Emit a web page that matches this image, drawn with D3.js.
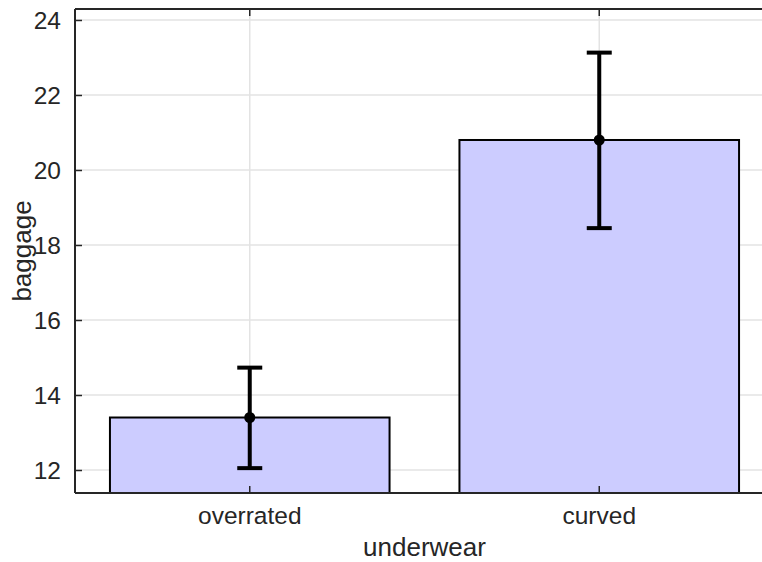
<!DOCTYPE html>
<html>
<head>
<meta charset="utf-8">
<script src="https://cdn.jsdelivr.net/npm/d3@7"></script>
<style>
  body { margin: 0; background: #fff; }
  svg text { font-family: "Liberation Sans", Arial, sans-serif; fill: #262626; }
</style>
</head>
<body>
<div id="chart"></div>
<script>
// data
var categories = ["overrated", "curved"];
var means = [13.4, 20.8];
var lowers = [12.05, 18.45];
var uppers = [14.73, 23.13];
var yTicks = [12, 14, 16, 18, 20, 22, 24];

var width = 762, height = 562;
var margin = {top: 9, right: -12, bottom: 69, left: 75};
var plotW = width - margin.left - margin.right;
var plotH = height - margin.top - margin.bottom;

var svg = d3.select("#chart").append("svg")
    .attr("width", width)
    .attr("height", height);

var g = svg.append("g")
    .attr("transform", "translate(" + margin.left + "," + margin.top + ")");

var x = d3.scaleBand()
    .domain(categories)
    .range([0, plotW])
    .paddingInner(0.2)
    .paddingOuter(0.1);

var y = d3.scaleLinear()
    .domain([11.387, 24.293])
    .range([plotH, 0]);

// grid lines
g.append("g").selectAll("line.hgrid")
    .data(yTicks).enter().append("line")
    .attr("x1", 0).attr("x2", plotW)
    .attr("y1", function(d) { return y(d); })
    .attr("y2", function(d) { return y(d); })
    .attr("stroke", "#e3e3e3").attr("stroke-width", 1.5);

g.append("g").selectAll("line.vgrid")
    .data(categories).enter().append("line")
    .attr("x1", function(d) { return x(d) + x.bandwidth()/2; })
    .attr("x2", function(d) { return x(d) + x.bandwidth()/2; })
    .attr("y1", 0).attr("y2", plotH)
    .attr("stroke", "#e3e3e3").attr("stroke-width", 1.5);

// bars
g.selectAll("rect.bar")
    .data(categories).enter().append("rect")
    .attr("class", "bar")
    .attr("x", function(d) { return x(d); })
    .attr("width", x.bandwidth())
    .attr("y", function(d, i) { return y(means[i]); })
    .attr("height", function(d, i) { return plotH - y(means[i]); })
    .attr("fill", "#ccccff")
    .attr("stroke", "#000")
    .attr("stroke-width", 2);

// error bars
var cx = function(d) { return x(d) + x.bandwidth()/2; };
var capW = 12.5;
var eb = g.append("g").selectAll("g")
    .data(categories).enter().append("g");
eb.append("line")
    .attr("x1", cx).attr("x2", cx)
    .attr("y1", function(d, i) { return y(lowers[i]); })
    .attr("y2", function(d, i) { return y(uppers[i]); })
    .attr("stroke", "#000").attr("stroke-width", 4);
eb.append("line")
    .attr("x1", function(d) { return cx(d) - capW; })
    .attr("x2", function(d) { return cx(d) + capW; })
    .attr("y1", function(d, i) { return y(uppers[i]); })
    .attr("y2", function(d, i) { return y(uppers[i]); })
    .attr("stroke", "#000").attr("stroke-width", 4);
eb.append("line")
    .attr("x1", function(d) { return cx(d) - capW; })
    .attr("x2", function(d) { return cx(d) + capW; })
    .attr("y1", function(d, i) { return y(lowers[i]); })
    .attr("y2", function(d, i) { return y(lowers[i]); })
    .attr("stroke", "#000").attr("stroke-width", 4);
eb.append("circle")
    .attr("cx", cx)
    .attr("cy", function(d, i) { return y(means[i]); })
    .attr("r", 5.5)
    .attr("fill", "#000");

// axes, ticks pointing inward
var yAxis = g.append("g")
    .call(d3.axisLeft(y).tickValues(yTicks).tickSize(-7).tickPadding(14));
var xAxis = g.append("g")
    .attr("transform", "translate(0," + plotH + ")")
    .call(d3.axisBottom(x).tickSize(-7).tickPadding(14));
var topAxis = g.append("g")
    .call(d3.axisTop(x).tickSize(-7).tickFormat(""));

[yAxis, xAxis, topAxis].forEach(function(a) {
    a.select(".domain").attr("stroke", "#262626").attr("stroke-width", 2);
    a.selectAll(".tick line").attr("stroke", "#262626").attr("stroke-width", 1.5);
});
yAxis.select(".domain").attr("d", "M0," + plotH + "V0");
xAxis.select(".domain").attr("d", "M0,0H" + plotW);
topAxis.select(".domain").attr("d", "M0,0H" + plotW);

yAxis.selectAll(".tick text").attr("font-size", 24.5).attr("dy", "0.36em").style("fill", "#262626");
xAxis.selectAll(".tick text").attr("font-size", 24.5).style("fill", "#262626");

// axis labels
svg.append("text")
    .attr("x", margin.left + plotW/2)
    .attr("y", 556)
    .attr("text-anchor", "middle")
    .attr("font-size", 26)
    .text("underwear");

svg.append("text")
    .attr("transform", "translate(31," + (margin.top + plotH/2) + ") rotate(-90)")
    .attr("text-anchor", "middle")
    .attr("font-size", 26)
    .text("baggage");
</script>
</body>
</html>
